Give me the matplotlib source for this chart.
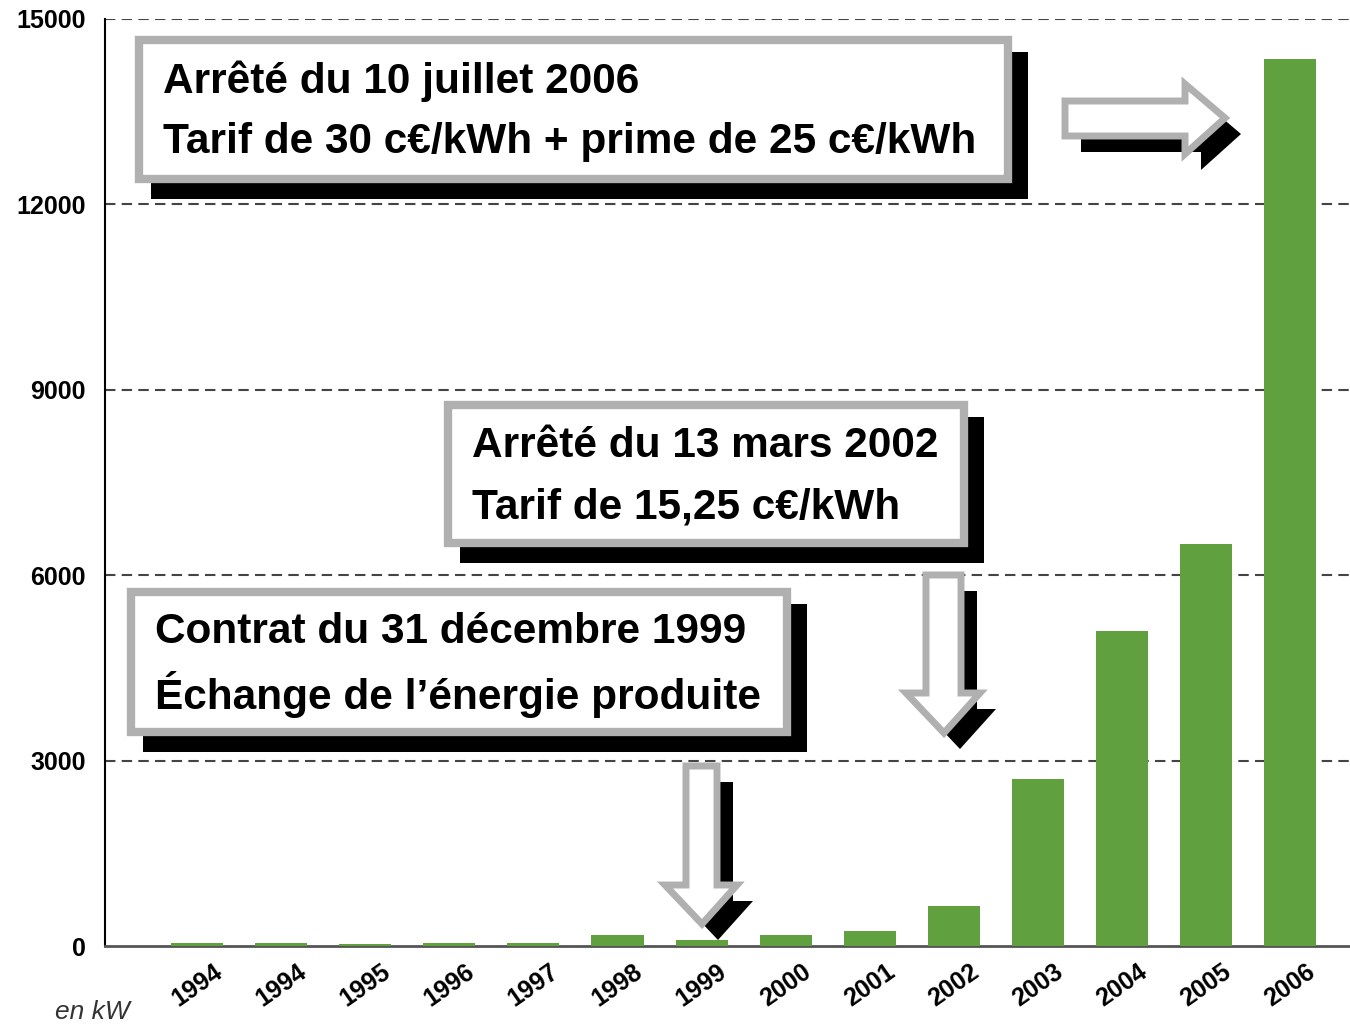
import matplotlib
matplotlib.use("Agg")
import matplotlib.pyplot as plt
from matplotlib.patches import Rectangle, Polygon

# puissance installée (kW) par année
years = ["1994", "1994", "1995", "1996", "1997", "1998", "1999",
         "2000", "2001", "2002", "2003", "2004", "2005", "2006"]
power_kw = [50, 50, 30, 50, 50, 170, 100, 170, 250, 650, 2700, 5100, 6500, 14350]
yticks = [0, 3000, 6000, 9000, 12000, 15000]

box_texts = [
    ("Arrêté du 10 juillet 2006", "Tarif de 30 c€/kWh + prime de 25 c€/kWh"),
    ("Arrêté du 13 mars 2002", "Tarif de 15,25 c€/kWh"),
    ("Contrat du 31 décembre 1999", "Échange de l\u2019énergie produite"),
]

W, H = 1350, 1026
GREEN = "#61a03f"
GRAY = "#b0b0b0"
SHADOW = 16
NARROW = ["Liberation Sans Narrow", "Liberation Sans"]

fig = plt.figure(figsize=(W / 100, H / 100), dpi=100)
ax = fig.add_axes([105 / W, 1 - 946 / H, 1 - 105 / W, (946 - 19) / H])

x = list(range(len(years)))
ax.bar(x, power_kw, width=0.62, color=GREEN, zorder=3)
ax.set_xlim(-1.094, 13.71)
ax.set_ylim(0, 15000)

ax.set_yticks(yticks)
ax.set_yticklabels([str(v) for v in yticks], fontsize=18, fontweight="bold",
                   family=NARROW)
ax.set_xticks(x)
ax.set_xticklabels(years, rotation=35, ha="center", va="top", fontsize=18,
                   fontweight="bold", family=NARROW)
ax.tick_params(axis="both", length=0)
ax.tick_params(axis="y", pad=14)
ax.tick_params(axis="x", pad=10)

for v in yticks[1:]:
    ax.axhline(v, color="#444444", lw=1.5, ls=(0, (5, 3)), zorder=1)

for s in ["top", "right"]:
    ax.spines[s].set_visible(False)
ax.spines["left"].set_color("black")
ax.spines["left"].set_linewidth(1.5)
ax.spines["bottom"].set_color("#555555")
ax.spines["bottom"].set_linewidth(2)

fig.text(55 / W, 1 - 1012 / H, "en kW", fontsize=19, style="italic",
         color="#333333", va="center", ha="left", family=NARROW)


def fx(px):
    return px / W


def fy(py):
    return 1 - py / H


def box(x0, y0, x1, y1, lines, tx, ty1, ty2):
    # ombre noire puis cadre gris
    fig.add_artist(Rectangle((fx(x0 + SHADOW), fy(y1 + SHADOW)),
                             (x1 - x0) / W, (y1 - y0) / H,
                             transform=fig.transFigure, facecolor="black",
                             edgecolor="none", zorder=5))
    fig.add_artist(Rectangle((fx(x0 + 4), fy(y1 - 4)),
                             (x1 - x0 - 8) / W, (y1 - y0 - 8) / H,
                             transform=fig.transFigure, facecolor="white",
                             edgecolor=GRAY, lw=6, zorder=6))
    for t, ty in zip(lines, (ty1, ty2)):
        fig.text(fx(tx), fy(ty), t, fontsize=30.5, fontweight="bold",
                 family="Liberation Sans", va="center", ha="left", zorder=7)


def arrow(pts):
    sh = [(px + SHADOW, py + SHADOW) for px, py in pts]
    fig.add_artist(Polygon([(fx(a), fy(b)) for a, b in sh], closed=True,
                           transform=fig.transFigure, facecolor="black",
                           edgecolor="none", zorder=5))
    fig.add_artist(Polygon([(fx(a), fy(b)) for a, b in pts], closed=True,
                           transform=fig.transFigure, facecolor="white",
                           edgecolor=GRAY, lw=5, joinstyle="miter", zorder=6))


box(135, 36, 1012, 183, box_texts[0], 163, 81, 142)
box(444, 401, 968, 547, box_texts[1], 472, 446, 507)
box(127, 588, 791, 736, box_texts[2], 155, 632, 695)

arrow([(1065, 101), (1185, 101), (1185, 84), (1225, 118),
       (1185, 154), (1185, 136), (1065, 136)])
arrow([(926, 575), (961, 575), (961, 693), (980, 693), (944, 733),
       (906, 693), (926, 693)])
arrow([(686, 766), (717, 766), (717, 885), (737, 885), (702, 924),
       (665, 885), (686, 885)])

fig.savefig("out.png", dpi=100, facecolor="white")
